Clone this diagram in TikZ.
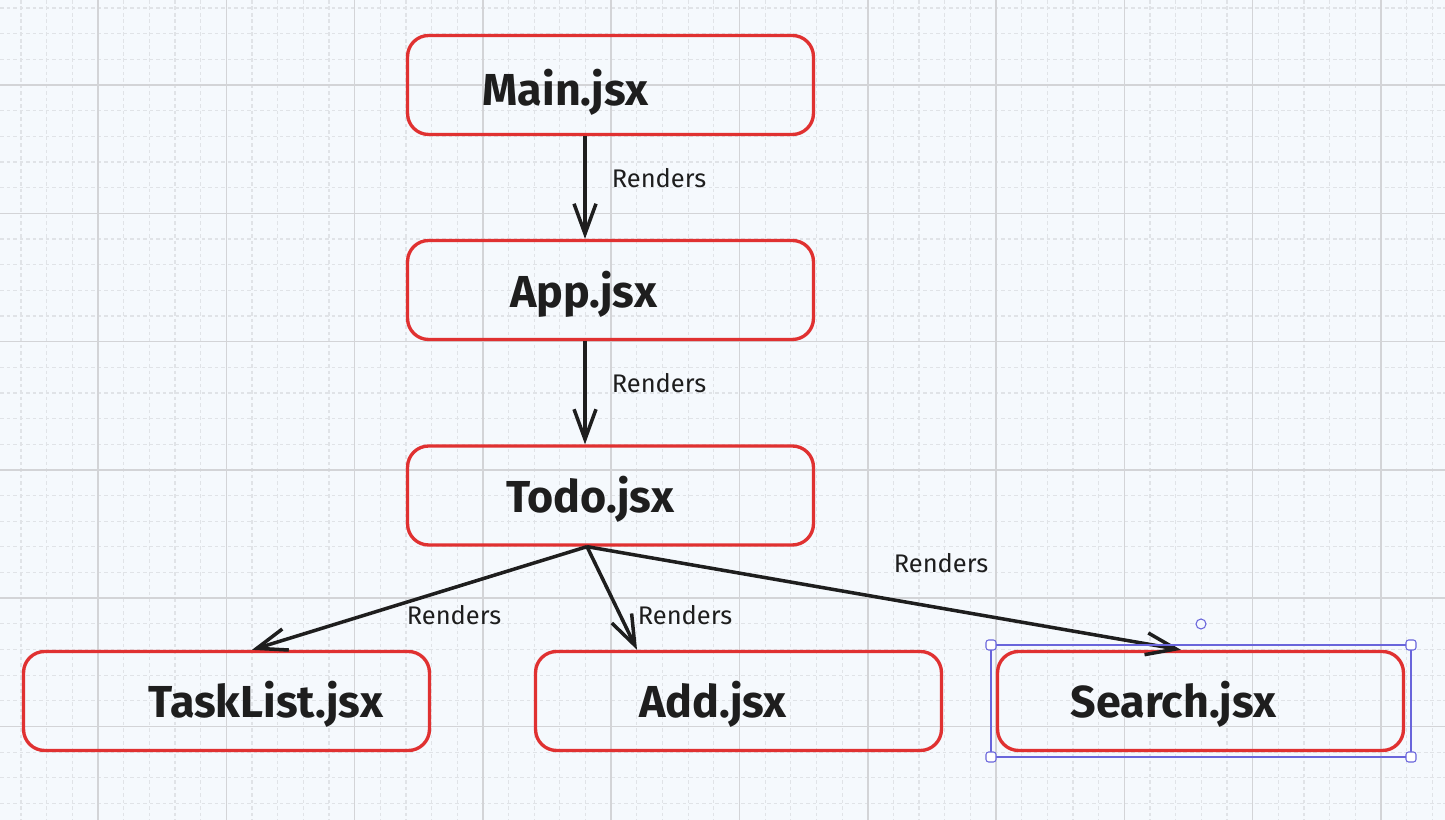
\documentclass[tikz,border=0pt]{standalone}
\usepackage{fontspec}
\setmainfont{Fira Sans}
\usetikzlibrary{arrows.meta}
\definecolor{paper}{HTML}{F5F9FD}
\definecolor{gridmajor}{HTML}{D3D4D7}
\definecolor{gridminor}{HTML}{E0E3E7}
\definecolor{boxred}{HTML}{E03131}
\definecolor{ink}{HTML}{1E1E1E}
\definecolor{selpurple}{HTML}{6965DB}
\tikzset{majorgrid/.style={gridmajor, line width=0.9pt},
  minorgrid/.style={gridminor, line width=0.7pt, dash pattern=on 2.2pt off 1.5pt},
  comp/.style={draw=boxred, line width=1.9pt, rounded corners=12pt, minimum width=8.12cm, minimum height=1.98cm},
  complabel/.style={ink, font=\bfseries\fontsize{25.5}{30}\selectfont, inner sep=0pt, anchor=base},
  renders/.style={ink, font=\fontsize{14.5}{17}\selectfont, inner sep=0pt, anchor=base},
  link/.style={ink, line width=2pt, -{Straight Barb[length=0.6cm,width=0.44cm]}},
  selbox/.style={selpurple, line width=0.6pt},
  handle/.style={selpurple, fill=white, line width=0.6pt, rounded corners=1.5pt}}

\begin{document}
\begin{tikzpicture}[x=0.02cm, y=-0.02cm]
   \useasboundingbox (0,0) rectangle (1445,820);
   \fill[paper] (0,0) rectangle (1445,820);
   % grid
   \foreach \i in {0,...,55} \draw[minorgrid] ({21+25.66*\i},0) -- ++(0,820);
   \foreach \i in {0,...,31} \draw[minorgrid] (0,{8+25.66*\i}) -- ++(1445,0);
   \foreach \i in {0,...,10} \draw[majorgrid] ({98+128.3*\i},0) -- ++(0,820);
   \foreach \i in {0,...,5} \draw[majorgrid] (0,{85+128.3*\i}) -- ++(1445,0);

   \node[comp] (main) at (610.5,85) {};
   \node[comp] (app) at (610.5,290) {};
   \node[comp] (todo) at (610.5,495.5) {};
   \node[comp] (tasklist) at (226.5,701) {};
   \node[comp] (add) at (738.5,701) {};
   \node[comp] (search) at (1200.5,701) {};

   \node[complabel] (mainlbl) at (565.5,106) {Main.jsx};
   \node[complabel] (applbl) at (583.5,308) {App.jsx};
   \node[complabel] (todolbl) at (590,513) {Todo.jsx};
   \node[complabel] (tasklistlbl) at (265.5,718) {TaskList.jsx};
   \node[complabel] (addlbl) at (713,718) {Add.jsx};
   \node[complabel] (searchlbl) at (1173.5,718) {Search.jsx};

   \draw[link] ([xshift=-0.51cm]main.south) -- ([xshift=-0.51cm]app.north);
   \draw[link] ([xshift=-0.51cm]app.south) -- ([xshift=-0.51cm]todo.north);
   \draw[link] ([xshift=-0.47cm]todo.south) -- ([xshift=0.51cm]tasklist.north);
   \draw[link] ([xshift=-0.47cm]todo.south) -- ([xshift=-2.03cm]add.north);
   \draw[link] ([xshift=-0.47cm]todo.south) -- ([xshift=-0.39cm]search.north);

   \node[renders] (r1) at (659,188) {Renders};
   \node[renders] (r2) at (659,393) {Renders};
   \node[renders] (r3) at (454,625) {Renders};
   \node[renders] (r4) at (685,625) {Renders};
   \node[renders] (r5) at (941,573) {Renders};

   % selection frame round Search.jsx
   \draw[selbox] (991,645) rectangle (1411,757);
   \foreach \x/\y in {991/645, 1411/645, 991/757, 1411/757}
     \draw[handle] (\x-5,\y-5) rectangle (\x+5,\y+5);
   \draw[selbox, fill=paper] (1201,624) circle (5);
\end{tikzpicture}
\end{document}
